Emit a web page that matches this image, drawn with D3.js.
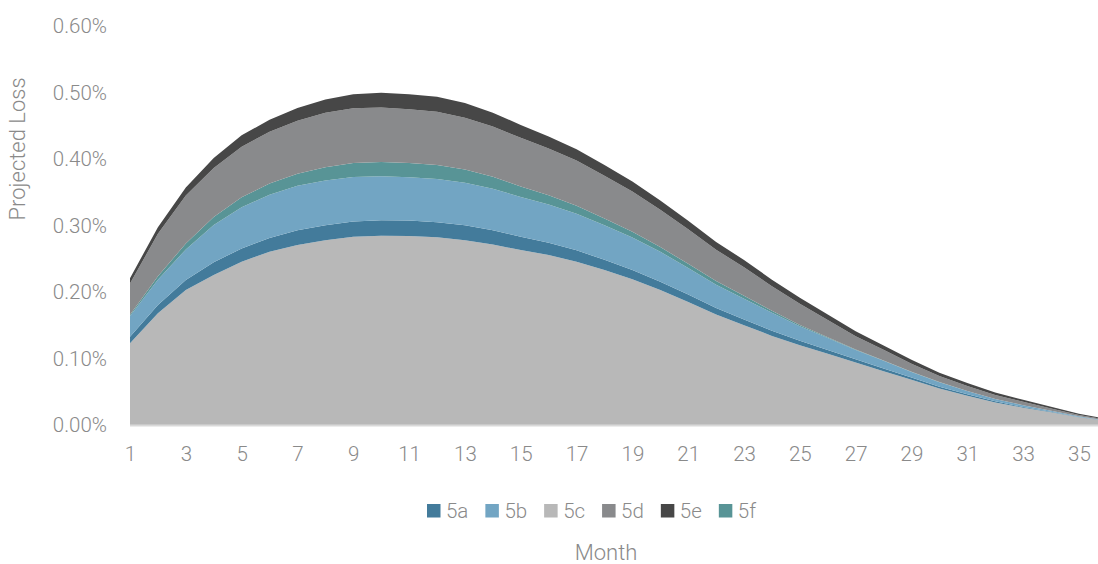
<!DOCTYPE html>
<html>
<head>
<meta charset="utf-8">
<script src="https://cdn.jsdelivr.net/npm/d3@7"></script>
<style>
  html, body { margin: 0; padding: 0; background: #ffffff; }
  svg { display: block; }
  text { font-family: Roboto, "Open Sans", "DejaVu Sans", sans-serif; font-weight: 300; fill: #8a8a8a; }
</style>
</head>
<body>
<svg id="chart" width="1098" height="564"></svg>
<script>
// Months on the category axis
const months = [1,2,3,4,5,6,7,8,9,10,11,12,13,14,15,16,17,18,19,20,21,22,23,24,25,26,27,28,29,30,31,32,33,34,35,36];
const monthTicks = [1,3,5,7,9,11,13,15,17,19,21,23,25,27,29,31,33,35];

// Projected loss per month, in percent
const s5a = [0.010,0.0125,0.015,0.019,0.020,0.0205,0.022,0.0225,0.023,0.0233,0.0232,0.0228,0.0222,0.0212,0.0200,0.0185,0.0170,0.0155,0.0140,0.0125,0.0112,0.0100,0.0088,0.0077,0.0066,0.0057,0.0048,0.0040,0.0033,0.0027,0.0021,0.0016,0.0012,0.0008,0.0005,0.0003];
const s5b = [0.031,0.038,0.046,0.056,0.062,0.065,0.067,0.067,0.067,0.066,0.065,0.065,0.064,0.0625,0.060,0.0575,0.055,0.052,0.049,0.045,0.040,0.035,0.031,0.027,0.022,0.018,0.014,0.0115,0.0085,0.0065,0.005,0.0035,0.0025,0.0016,0.001,0.0005];
const s5c = [0.1228,0.168,0.203,0.2256,0.2456,0.2606,0.2707,0.278,0.283,0.2847,0.2842,0.2822,0.278,0.2715,0.263,0.2556,0.2456,0.233,0.219,0.203,0.185,0.166,0.150,0.134,0.120,0.107,0.094,0.081,0.068,0.055,0.044,0.034,0.026,0.019,0.0115,0.006];
const s5d = [0.047,0.064,0.072,0.074,0.076,0.078,0.080,0.082,0.0825,0.082,0.081,0.080,0.078,0.0755,0.073,0.0705,0.068,0.0645,0.0605,0.056,0.052,0.047,0.043,0.037,0.032,0.026,0.020,0.016,0.012,0.009,0.0075,0.006,0.005,0.0035,0.002,0.001];
const s5e = [0.008,0.010,0.012,0.015,0.017,0.018,0.019,0.020,0.021,0.022,0.0225,0.0225,0.022,0.021,0.0195,0.018,0.017,0.016,0.015,0.014,0.0128,0.0118,0.0108,0.0098,0.009,0.0082,0.0074,0.0066,0.0058,0.005,0.0043,0.0036,0.003,0.0024,0.0018,0.0012];
const s5f = [0.002,0.005,0.009,0.012,0.015,0.017,0.018,0.020,0.021,0.0215,0.0215,0.021,0.020,0.018,0.0158,0.0138,0.012,0.010,0.0085,0.007,0.0062,0.0055,0.0045,0.003,0.0018,0.0012,0.0008,0.0005,0.0004,0.0003,0.0002,0.0001,0.0001,0.0001,0.0001,0];

const yTicks = [0, 0.1, 0.2, 0.3, 0.4, 0.5, 0.6];

const seriesNames = ["5a", "5b", "5c", "5d", "5e", "5f"];
const seriesValues = { "5a": s5a, "5b": s5b, "5c": s5c, "5d": s5d, "5e": s5e, "5f": s5f };
const stackOrder = ["5c", "5a", "5b", "5f", "5d", "5e"];
const colors = { "5a": "#437b9b", "5b": "#72a5c3", "5c": "#b8b8b8", "5d": "#898a8c", "5e": "#474747", "5f": "#589496" };

const rows = months.map((m, i) => {
  const r = { month: m };
  seriesNames.forEach(k => { r[k] = seriesValues[k][i]; });
  return r;
});

const svg = d3.select("#chart");

const x = d3.scaleLinear().domain([1, 36]).range([130, 130 + 35 * 27.91]);
const y = d3.scaleLinear().domain([0, 0.6]).range([425, 26]);

const stacked = d3.stack().keys(stackOrder)(rows);

const area = d3.area()
  .x(d => x(d.data.month))
  .y0(d => y(d[0]))
  .y1(d => y(d[1]))
  .curve(d3.curveLinear);

svg.append("g")
  .selectAll("path")
  .data(stacked)
  .join("path")
  .attr("d", area)
  .attr("fill", d => colors[d.key]);

// Category axis line
svg.append("line")
  .attr("x1", x(1)).attr("x2", 1098)
  .attr("y1", y(0) + 0.5).attr("y2", y(0) + 0.5)
  .attr("stroke", "#d9d9d9").attr("stroke-width", 2);

// Value axis labels
const yAxis = d3.axisLeft(y)
  .tickValues(yTicks)
  .tickFormat(d => d.toFixed(2) + "%")
  .tickSize(0)
  .tickPadding(0);
const yg = svg.append("g").attr("transform", "translate(107,0)").call(yAxis);
yg.select(".domain").remove();
yg.selectAll("text")
  .style("font-size", "20.5px")
  .style("font-family", null)
  .attr("fill", "#8a8a8a");

// Month labels
const xAxis = d3.axisBottom(x)
  .tickValues(monthTicks)
  .tickFormat(d3.format("d"))
  .tickSize(0)
  .tickPadding(0);
const xg = svg.append("g").attr("transform", "translate(0,446)").call(xAxis);
xg.select(".domain").remove();
xg.selectAll("text")
  .style("font-size", "20.5px")
  .style("font-family", null)
  .attr("fill", "#8a8a8a");

// Axis titles
svg.append("text")
  .attr("transform", "translate(25,149) rotate(-90)")
  .attr("text-anchor", "middle")
  .style("font-size", "22px")
  .text("Projected Loss");

svg.append("text")
  .attr("x", 606).attr("y", 560)
  .attr("text-anchor", "middle")
  .style("font-size", "22px")
  .text("Month");

// Legend
const legend = svg.append("g");
let lx = 427;
seriesNames.forEach(k => {
  legend.append("rect")
    .attr("x", lx).attr("y", 504)
    .attr("width", 13.5).attr("height", 13.5)
    .attr("fill", colors[k]);
  const t = legend.append("text")
    .attr("x", lx + 19).attr("y", 518)
    .style("font-size", "20.5px")
    .text(k);
  lx += 19 + t.node().getComputedTextLength() + 17;
});
</script>
</body>
</html>
